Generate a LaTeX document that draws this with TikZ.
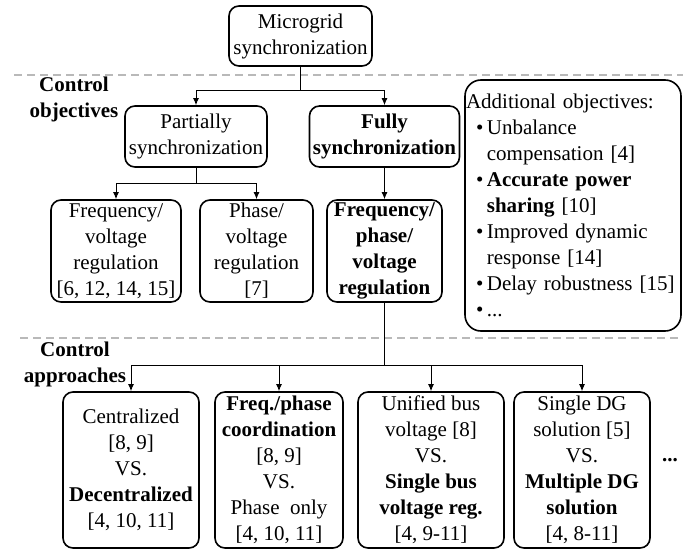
\documentclass[tikz,border=0pt]{standalone}
\usepackage{fontspec}
\setmainfont{Liberation Serif}
\usetikzlibrary{arrows.meta}
\newcommand{\bul}{\hspace*{5pt}\textbullet\,}
\newcommand{\hng}{\hspace*{5pt}\phantom{\textbullet\,}}

\begin{document}
\begin{tikzpicture}[x=0.5pt,y=-0.5pt,
  font=\fontsize{10.5}{13}\selectfont,
  box/.style={draw,line width=0.8pt,rounded corners=5pt,align=center,inner sep=1pt},
  wire/.style={line width=0.5pt},
  arr/.style={wire,-{Latex[length=3.5pt,width=3pt]}},
  sep/.style={gray!55,line width=0.6pt,dash pattern=on 4pt off 2.5pt},
  lbl/.style={font=\fontsize{10.5}{13}\selectfont\bfseries,align=center}]
\useasboundingbox (0,0) rectangle (683,551);
% Separators:
\draw[sep] (14,75) -- (683,75);
\draw[sep] (20,338) -- (683,338);
% Objectives:
\node (top) [box,minimum width=71.5pt,minimum height=30pt] at (300.5,36) {Microgrid\\synchronization};
\node (objlbl) [lbl] at (74,99) {Control\\objectives};
\node (partial) [box,minimum width=71pt,minimum height=30.5pt] at (196,136.5) {Partially\\synchronization};
\node (fully) [box,minimum width=75pt,minimum height=30.5pt] at (384.5,136.5) {\textbf{Fully}\\\textbf{synchronization}};
\node (addl) [box,align=left,rounded corners=8pt,inner xsep=0.5pt,minimum width=108pt,minimum height=125.5pt,text width=107pt] at (573,205.5) {Additional objectives:\\
\bul Unbalance\\
\hng compensation [4]\\
\bul\textbf{Accurate power}\\
\hng\textbf{sharing} [10]\\
\bul Improved dynamic\\
\hng response [14]\\
\bul Delay robustness [15]\\
\bul ...};
\node (fv) [box,minimum width=65pt,minimum height=51pt] at (116,251) {Frequency/\\voltage\\regulation\\{}[6, 12, 14, 15]};
\node (pv) [box,minimum width=56.5pt,minimum height=51pt] at (256.5,251) {Phase/\\voltage\\regulation\\{}[7]};
\node (fpv) [box,minimum width=57.5pt,minimum height=51pt,font=\fontsize{10.5}{13}\selectfont\bfseries] at (384.5,251) {Frequency/\\phase/\\voltage\\regulation};
% Approaches:
\node (applbl) [lbl] at (75,364) {Control\\approaches};
\node (b1) [box,minimum width=68pt,minimum height=78pt] at (131,470) {Centralized\\{}[8, 9]\\VS.\\\textbf{Decentralized}\\{}[4, 10, 11]};
\node (b2) [box,minimum width=64pt,minimum height=78pt] at (279,470) {\textbf{Freq./phase}\\\textbf{coordination}\\{}[8, 9]\\VS.\\Phase\ \ only\\{}[4, 10, 11]};
\node (b3) [box,minimum width=73pt,minimum height=78pt] at (431,470) {Unified bus\\voltage [8]\\VS.\\\textbf{Single bus}\\\textbf{voltage reg.}\\{}[4, 9-11]};
\node (b4) [box,minimum width=68pt,minimum height=78pt] at (582,470) {Single DG\\solution [5]\\VS.\\\textbf{Multiple DG}\\\textbf{solution}\\{}[4, 8-11]};
\node (more) [lbl] at (670,460) {...};
% Connectors:
\coordinate (j1) at (300.5,90);
\draw[wire] (top.south) -- (j1);
\draw[arr] (j1) -| (partial.north);
\draw[arr] (j1) -| (fully.north);
\draw[arr] (fully.south) -- (fpv.north);
\coordinate (j2) at (196,183);
\draw[wire] (partial.south) -- (j2);
\draw[arr] (j2) -| (fv.north);
\draw[arr] (j2) -| (pv.north);
\coordinate (j3) at (384.5,365);
\draw[wire] (fpv.south) -- (j3);
\foreach \b in {b1,b2,b3,b4}
  \draw[arr] (j3) -| (\b.north);
\end{tikzpicture}
\end{document}
